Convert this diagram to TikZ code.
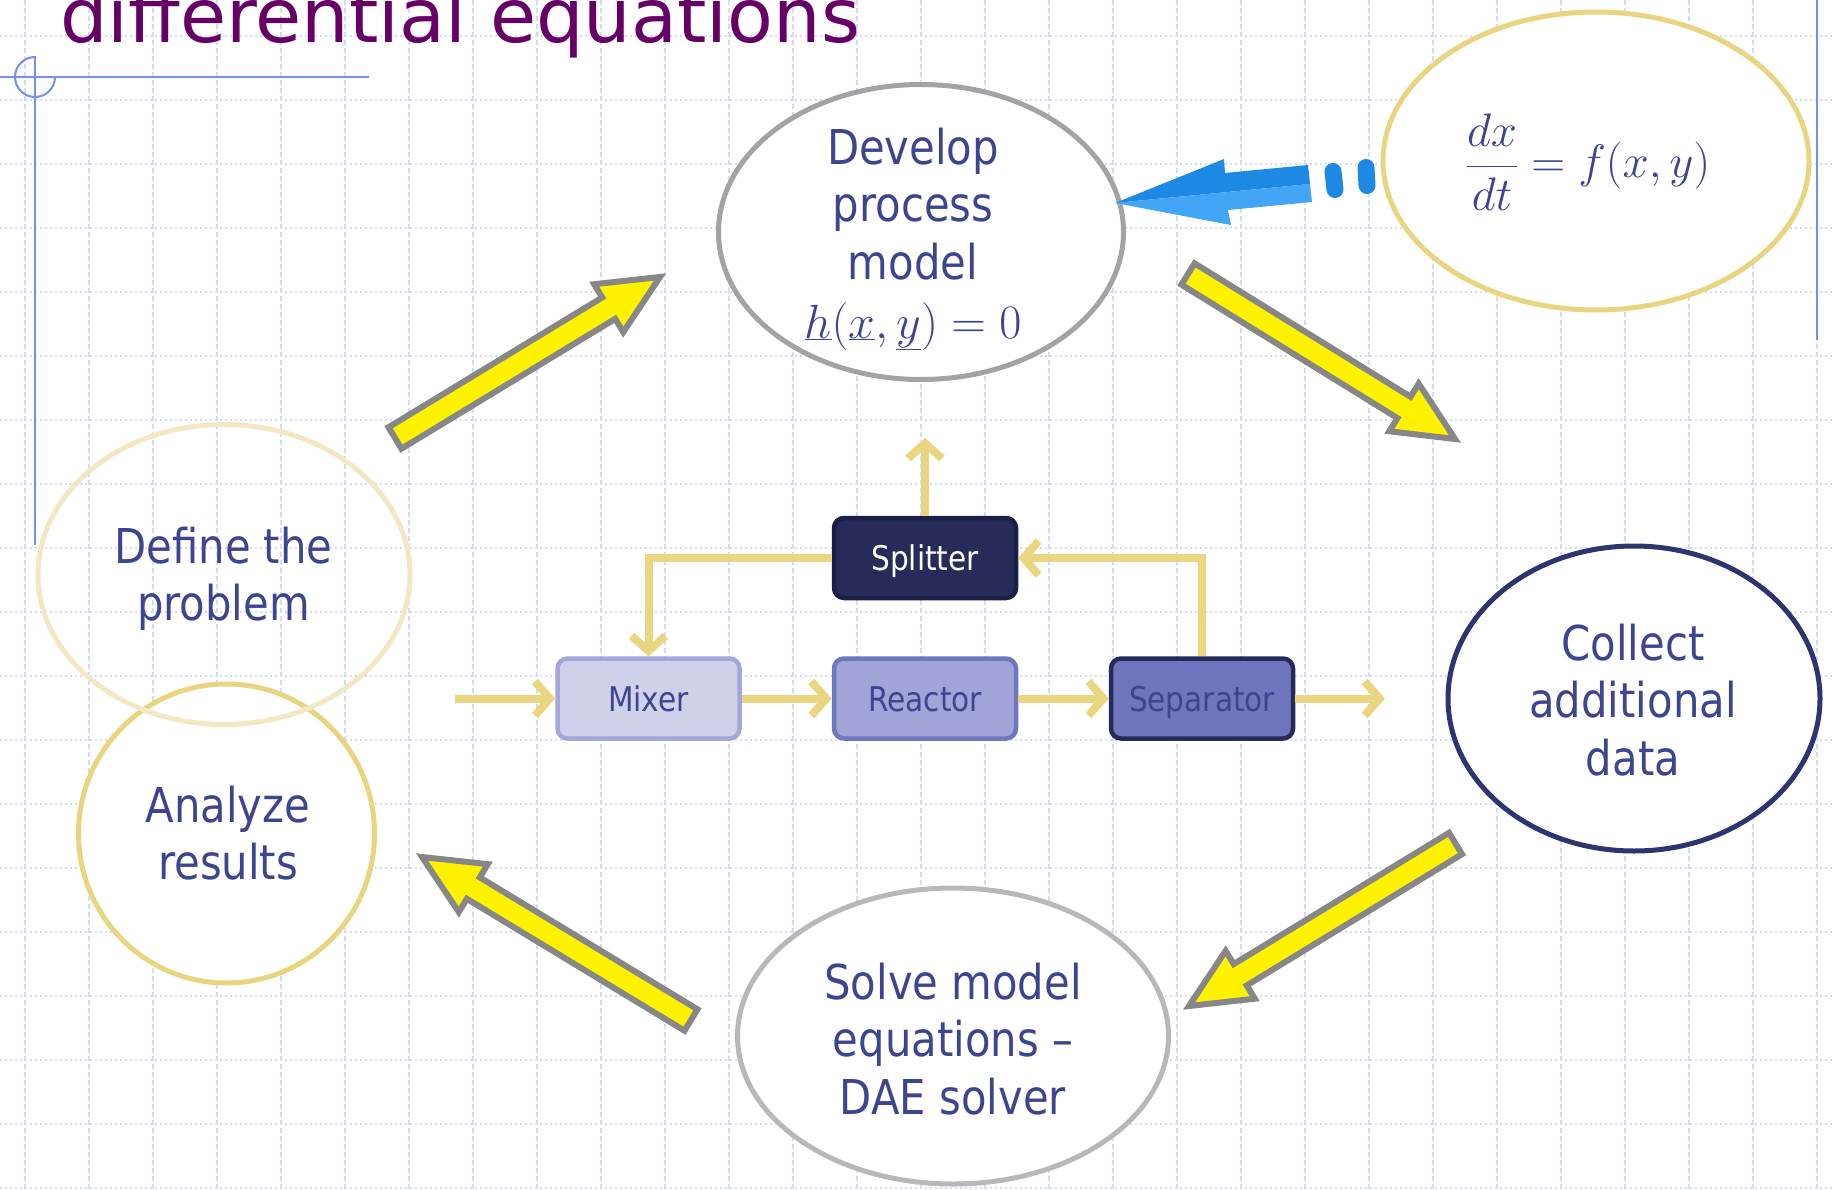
\RequirePackage{fix-cm}
\documentclass[tikz,border=0pt]{standalone}
\usepackage[no-math]{fontspec}
\setmainfont{DejaVu Sans}[FakeStretch=0.87]
\newfontfamily\titlefont{DejaVu Sans}
\usetikzlibrary{shapes.geometric,arrows.meta,calc}

\definecolor{ink}{HTML}{3D4590}
\definecolor{titlepurple}{HTML}{660066}
\definecolor{gridblue}{HTML}{D0DCF9}
\definecolor{guideblue}{HTML}{7391F5}
\definecolor{arrowgray}{HTML}{878787}
\definecolor{flowtan}{HTML}{EAD681}
\definecolor{jetdark}{HTML}{1E88E5}
\definecolor{jetlight}{HTML}{42A5F5}
\definecolor{splitfill}{HTML}{272B59}
\definecolor{splitdraw}{HTML}{1B1E45}
\definecolor{mixfill}{HTML}{CFD1EA}
\definecolor{mixdraw}{HTML}{A2A6D8}
\definecolor{reactfill}{HTML}{A0A4D6}
\definecolor{reactdraw}{HTML}{7076C0}
\definecolor{sepfill}{HTML}{6F76BD}
\definecolor{sepdraw}{HTML}{262A58}
\definecolor{developgray}{HTML}{A3A3A3}
\definecolor{solvegray}{HTML}{B8B8B8}
\definecolor{goldline}{HTML}{E9D480}
\definecolor{paleline}{HTML}{F3E8C4}
\definecolor{navyline}{HTML}{2E346F}

% block arrow from #1 (tail) to #2 (tip)
\newcommand\yellowarrow[2]{%
  \coordinate (neck) at ($(#2)!60pt!(#1)$);
  \draw[bigarrow] ($(#1)!12.5pt!90:(#2)$) -- ($(neck)!12.5pt!-90:(#1)$)
    -- ($(neck)!28pt!-90:(#1)$) -- (#2) -- ($(neck)!28pt!90:(#1)$)
    -- ($(neck)!12.5pt!90:(#1)$) -- ($(#1)!12.5pt!-90:(#2)$) -- cycle;}

\begin{document}
\begin{tikzpicture}[x=1pt, y=-1pt,
  bubble/.style={ellipse, line width=5pt, inner sep=0pt},
  bubbletext/.style={text=ink, align=center, font=\fontsize{48}{57.5}\selectfont},
  unit/.style={rounded corners=10pt, line width=4.5pt, minimum width=182pt,
    minimum height=80pt, inner sep=0pt, text height=25pt, text depth=0pt,
    font=\fontsize{34}{40}\selectfont},
  flow/.style={draw=flowtan, line width=8pt, -{Straight Barb[length=15pt,width=34pt]}},
  bigarrow/.style={fill=yellow, draw=arrowgray, line width=6pt, line join=miter},
  gridh/.style={draw=gridblue, line width=1.8pt, dash pattern=on 2pt off 3pt},
  gridv/.style={draw=gridblue, line width=1.8pt, dash pattern=on 5pt off 3pt},
  guide/.style={draw=guideblue, line width=2pt}]

\useasboundingbox (0,0) rectangle (1833,1190);
\clip (0,0) rectangle (1833,1190);
\fill[white] (0,0) rectangle (1833,1190);

% background grid
\foreach \k in {0,...,18} \draw[gridh] (0,36+64*\k) -- (1833,36+64*\k);
\foreach \k in {0,...,28} \draw[gridv] (25+64*\k,0) -- (25+64*\k,1190);

% slide guide lines
\draw[guide] (0,77) -- (369,77);
\draw[guide] (35,56) -- (35,545);
\draw[guide] (35,57) arc[start angle=270, end angle=0, radius=20];
\draw[guide] (1817,0) -- (1817,340);

% title
\node[anchor=base west, inner sep=0pt, text=titlepurple,
  font=\titlefont\fontsize{75}{80}\selectfont] (title) at (60,43) {differential equations};

% bubbles
\node[bubble, draw=goldline, fill=white, minimum width=296pt, minimum height=299pt] (analyze) at (226.5,833.5) {};
\node[bubble, draw=paleline, minimum width=372pt, minimum height=300pt] (define) at (224,574.5) {};
\node[bubble, draw=developgray, fill=white, minimum width=405pt, minimum height=295pt] (develop) at (921,232) {};
\node[bubble, draw=goldline, fill=white, minimum width=426pt, minimum height=298pt] (rate) at (1596,161) {};
\node[bubble, draw=navyline, fill=white, minimum width=372pt, minimum height=305pt] (collect) at (1634,698.5) {};
\node[bubble, draw=solvegray, fill=white, minimum width=431pt, minimum height=296pt] (solve) at (953,1036) {};

% bubble texts
\node[bubbletext] (define-text) at (223.5,579) {Define the\\problem};
\node[bubbletext] (analyze-text) at (228,833) {Analyze\\results};
\node[bubbletext] (develop-text) at (913,239) {Develop\\process\\model\\[1.5pt]$\underline{h}(\underline{x},\underline{y})=0$};
\node[bubbletext] (collect-text) at (1633,700) {Collect\\additional\\data};
\node[bubbletext] (solve-text) at (953,1039) {Solve model\\equations –\\DAE solver};
\node[text=ink, inner sep=0pt, anchor=base, font=\fontsize{47}{56}\selectfont] (rate-text) at (1588,178) {$\displaystyle\frac{dx}{dt}=f(x,y)$};

% cycle arrows
\coordinate (a1s) at (395,438);   \coordinate (a1e) at (660,277);
\coordinate (a2s) at (1188,274);  \coordinate (a2e) at (1455,439);
\coordinate (a3s) at (1455.5,843.5); \coordinate (a3e) at (1189,1006);
\coordinate (a4s) at (691,1020);  \coordinate (a4e) at (422,857);
\yellowarrow{a1s}{a1e}
\yellowarrow{a2s}{a2e}
\yellowarrow{a3s}{a3e}
\yellowarrow{a4s}{a4e}

% blue arrow from the ODE bubble into the model bubble
\coordinate (jettip) at (1115,203);
\fill[jetdark] (jettip) -- (1224,159) -- (1225,173) -- (1308,165) -- (1310,184) -- cycle;
\fill[jetlight] (jettip) -- (1310,184) -- (1312,202) -- (1228,210) -- (1231,225) -- cycle;
\draw[jetdark, line width=17pt, line cap=round] (1333,171.5) -- (1335,189.5);
\draw[jetdark, line width=17pt, line cap=round] (1366,167.5) -- (1367,185.5);

% process flowsheet
\node[unit, fill=splitfill, draw=splitdraw, text=white] (splitter) at (925,558) {Splitter};
\node[unit, fill=mixfill, draw=mixdraw, text=ink] (mixer) at (648.5,698.5) {Mixer};
\node[unit, fill=reactfill, draw=reactdraw, text=ink] (reactor) at (925,698.5) {Reactor};
\node[unit, fill=sepfill, draw=sepdraw, text=ink] (separator) at (1202,698.5) {Separator};

\coordinate (feed) at (455,698.5);
\coordinate (product) at (1385,698.5);
\coordinate (purge) at (925,438);
\draw[flow] (feed) -- (mixer.west);
\draw[flow] (mixer.east) -- (reactor.west);
\draw[flow] (reactor.east) -- (separator.west);
\draw[flow] (separator.east) -- (product);
\draw[flow] (splitter.north) -- (purge);
\draw[flow] (separator.north) |- (splitter.east);
\draw[flow] (splitter.west) -| (mixer.north);
\end{tikzpicture}
\end{document}
